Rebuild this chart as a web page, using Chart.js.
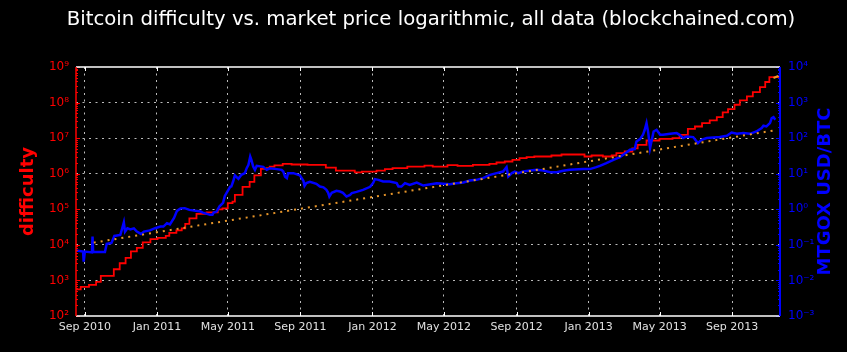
<!DOCTYPE html>
<html>
<head>
<meta charset="utf-8">
<script src="https://cdn.jsdelivr.net/npm/chart.js@4.4.1/dist/chart.umd.min.js"></script>
<style>
  html, body { margin: 0; padding: 0; background: #000; }
</style>
</head>
<body>
<canvas id="chart" width="847" height="352"></canvas>
<script>
const chartTitle = 'Bitcoin difficulty vs. market price logarithmic, all data (blockchained.com)';

// x axis ticks
const xTickDates = ['2010-09-01', '2011-01-01', '2011-05-01', '2011-09-01', '2012-01-01',
  '2012-05-01', '2012-09-01', '2013-01-01', '2013-05-01', '2013-09-01'];
const xTickLabels = ['Sep 2010', 'Jan 2011', 'May 2011', 'Sep 2011', 'Jan 2012',
  'May 2012', 'Sep 2012', 'Jan 2013', 'May 2013', 'Sep 2013'];

// y axis ticks
const diffTicks = [1e2, 1e3, 1e4, 1e5, 1e6, 1e7, 1e8, 1e9];
const diffTickLabels = ['10²', '10³', '10⁴', '10⁵', '10⁶', '10⁷', '10⁸', '10⁹'];
const priceTicks = [1e-3, 1e-2, 1e-1, 1e0, 1e1, 1e2, 1e3, 1e4];
const priceTickLabels = ['10⁻³', '10⁻²', '10⁻¹', '10⁰', '10¹', '10²', '10³', '10⁴'];

// network difficulty (red, stepped)
const diffDates = ['2010-08-17', '2010-08-25', '2010-09-08', '2010-09-20', '2010-09-28', '2010-10-20',
  '2010-10-30', '2010-11-09', '2010-11-18', '2010-11-28', '2010-12-08', '2010-12-21', '2011-01-02',
  '2011-01-16', '2011-01-22', '2011-02-03', '2011-02-12', '2011-02-18', '2011-02-25', '2011-03-09',
  '2011-03-26', '2011-04-14', '2011-04-22', '2011-05-01', '2011-05-09', '2011-05-13', '2011-05-26',
  '2011-06-07', '2011-06-15', '2011-06-26', '2011-07-06', '2011-07-11', '2011-07-19', '2011-08-02',
  '2011-08-17', '2011-09-13', '2011-10-14', '2011-10-31', '2011-12-02', '2011-12-14', '2012-01-08',
  '2012-01-22', '2012-02-04', '2012-02-29', '2012-03-29', '2012-04-12', '2012-05-07', '2012-05-24',
  '2012-06-19', '2012-07-17', '2012-07-29', '2012-08-12', '2012-08-25', '2012-09-06', '2012-09-18',
  '2012-10-01', '2012-10-30', '2012-11-16', '2012-12-25', '2013-01-06', '2013-01-25', '2013-02-09',
  '2013-02-17', '2013-03-03', '2013-03-16', '2013-03-25', '2013-04-09', '2013-05-01', '2013-05-23',
  '2013-06-04', '2013-06-18', '2013-06-30', '2013-07-12', '2013-07-25', '2013-08-06', '2013-08-16',
  '2013-08-25', '2013-09-05', '2013-09-14', '2013-09-26', '2013-10-06', '2013-10-18', '2013-10-27',
  '2013-11-03', '2013-11-19'];
const diffValues = [564, 655, 746, 906, 1336, 2063,
  3043, 4290, 6537, 8202, 11720, 14420, 15670,
  17860, 21680, 25480, 29010, 38830, 55460, 74280,
  81850, 99310, 106100, 148600, 164800, 254700, 427600,
  590200, 899500, 1371000, 1435000, 1592000, 1721000, 1897000,
  1813000, 1778000, 1483000, 1228000, 1093000, 1151000, 1228000,
  1346000, 1435000, 1592000, 1698000, 1592000, 1742000, 1667000,
  1778000, 1897000, 2065000, 2203000, 2460000, 2744000, 2929000,
  3046000, 3251000, 3467000, 3046000, 3251000, 3046000, 3251000,
  3795000, 4209000, 5176000, 6497000, 8595000, 9590000, 10030000,
  12420000, 18330000, 21280000, 26540000, 31420000, 39120000, 52720000,
  65760000, 86950000, 114800000, 148600000, 197700000, 273500000, 378400000,
  516500000, 568800000];

// difficulty estimate at the end (orange)
const estDates = ['2013-11-10', '2013-11-19'];
const estValues = [490000000, 569000000];

// MtGox USD/BTC (blue)
const priceDates = ['2010-08-17', '2010-08-29', '2010-08-30', '2010-09-01', '2010-09-13', '2010-09-14',
  '2010-09-15', '2010-10-05', '2010-10-08', '2010-10-16', '2010-10-21', '2010-10-31', '2010-11-03',
  '2010-11-06', '2010-11-08', '2010-11-12', '2010-11-17', '2010-11-23', '2010-11-28', '2010-12-05',
  '2010-12-10', '2010-12-20', '2010-12-29', '2011-01-07', '2011-01-12', '2011-01-18', '2011-01-23',
  '2011-01-30', '2011-02-04', '2011-02-10', '2011-02-17', '2011-02-25', '2011-03-16', '2011-03-20',
  '2011-04-01', '2011-04-05', '2011-04-07', '2011-04-12', '2011-04-17', '2011-04-23', '2011-04-26',
  '2011-04-29', '2011-05-05', '2011-05-07', '2011-05-10', '2011-05-13', '2011-05-19', '2011-05-24',
  '2011-05-30', '2011-06-02', '2011-06-05', '2011-06-08', '2011-06-10', '2011-06-13', '2011-06-16',
  '2011-06-19', '2011-06-30', '2011-07-06', '2011-07-11', '2011-07-23', '2011-07-31', '2011-08-03',
  '2011-08-06', '2011-08-09', '2011-08-11', '2011-08-20', '2011-08-31', '2011-09-06', '2011-09-08',
  '2011-09-11', '2011-09-17', '2011-09-28', '2011-10-04', '2011-10-10', '2011-10-15', '2011-10-18',
  '2011-10-20', '2011-10-24', '2011-11-01', '2011-11-07', '2011-11-12', '2011-11-18', '2011-11-24',
  '2011-11-27', '2011-12-05', '2011-12-16', '2011-12-28', '2012-01-02', '2012-01-05', '2012-01-11',
  '2012-01-19', '2012-01-30', '2012-02-11', '2012-02-14', '2012-02-19', '2012-02-25', '2012-03-04',
  '2012-03-16', '2012-03-27', '2012-04-19', '2012-05-11', '2012-05-22', '2012-06-03', '2012-06-14',
  '2012-06-25', '2012-07-06', '2012-07-18', '2012-07-29', '2012-08-09', '2012-08-15', '2012-08-18',
  '2012-08-24', '2012-08-29', '2012-09-04', '2012-09-12', '2012-09-24', '2012-10-05', '2012-10-16',
  '2012-10-28', '2012-11-08', '2012-11-19', '2012-11-30', '2012-12-23', '2013-01-03', '2013-01-14',
  '2013-01-20', '2013-01-31', '2013-02-12', '2013-02-23', '2013-03-03', '2013-03-12', '2013-03-20',
  '2013-03-23', '2013-03-29', '2013-04-03', '2013-04-06', '2013-04-09', '2013-04-12', '2013-04-15',
  '2013-04-18', '2013-04-21', '2013-04-26', '2013-05-02', '2013-05-07', '2013-05-19', '2013-05-30',
  '2013-06-04', '2013-06-10', '2013-06-16', '2013-06-27', '2013-07-05', '2013-07-11', '2013-07-20',
  '2013-08-11', '2013-08-23', '2013-08-31', '2013-09-09', '2013-09-20', '2013-10-01', '2013-10-12',
  '2013-10-21', '2013-10-24', '2013-10-29', '2013-11-04', '2013-11-07', '2013-11-10', '2013-11-13'];
const priceValues = [0.0689, 0.0645, 0.0337, 0.0645, 0.0612, 0.1706,
  0.0633, 0.0633, 0.1063, 0.1134, 0.1785, 0.1905, 0.2812,
  0.4285, 0.2358, 0.2940, 0.2720, 0.2901, 0.2358, 0.2032,
  0.2358, 0.2549, 0.2940, 0.3261, 0.3261, 0.4064, 0.3759,
  0.5730, 0.9021, 1.061, 1.074, 0.962, 0.863, 0.8075,
  0.6966, 0.6966, 0.8075, 0.863, 1.208, 1.514, 2.384,
  2.897, 4.276, 4.355, 6.026, 8.995, 7.172, 9.297,
  10.38, 14.35, 17.78, 30.46, 24.60, 15.92, 12.85,
  16.67, 15.62, 12.85, 14.16, 13.46, 12.85, 11.51,
  8.168, 7.51, 10.38, 10.38, 8.995, 6.306, 4.56,
  5.43, 5.902, 5.19, 4.355, 4.137, 3.517, 2.897,
  2.278, 2.897, 3.297, 3.148, 2.897, 2.278, 2.545,
  2.840, 3.090, 3.517, 4.276, 5.430, 7.036, 6.724,
  6.026, 6.026, 5.430, 4.355, 4.355, 5.430, 4.864,
  5.648, 4.650, 5.430, 5.090, 5.430, 5.648, 6.428,
  6.724, 7.510, 9.297, 10.38, 11.51, 15.31, 8.33,
  10.38, 11.51, 10.38, 11.51, 12.28, 12.85, 12.28,
  11.07, 11.07, 12.05, 12.85, 13.46, 13.46, 15.31,
  16.67, 19.86, 24.60, 29.31, 36.31, 47.03, 49.20,
  80.5, 94.0, 124.2, 171.7, 265.5, 138.7, 52.5,
  89.9, 153.8, 171.7, 124.2, 124.2, 132.4, 138.7,
  124.2, 100.3, 111.4, 107.1, 72.6, 89.9, 100.3,
  107.1, 116.4, 144.3, 132.4, 138.7, 132.4, 153.8,
  191.9, 222.8, 212.8, 265.5, 366.6, 391.0, 328.3];

// exponential price trend (orange dotted)
const trendDates = ['2010-09-16', '2011-05-16', '2012-02-16', '2012-12-17', '2013-11-10'];
const trendValues = [0.1156, 0.527, 2.953, 20.2, 164.0];

const toDay = s => Date.UTC(+s.slice(0, 4), +s.slice(5, 7) - 1, +s.slice(8, 10)) / 86400000;
const pts = (dates, values) => dates.map((d, i) => ({ x: toDay(d), y: values[i] }));

Chart.defaults.font.family = '"DejaVu Sans", sans-serif';

const gridColor = '#bbbbbb';

const axesDecor = {
  id: 'axesDecor',
  afterDraw(chart) {
    const { ctx, chartArea: a, scales } = chart;
    ctx.save();
    // x ticks, pointing in from top and bottom
    ctx.strokeStyle = '#ffffff';
    ctx.lineWidth = 1;
    scales.x.ticks.forEach(t => {
      const px = Math.round(scales.x.getPixelForValue(t.value)) + 0.5;
      ctx.beginPath();
      ctx.moveTo(px, a.bottom); ctx.lineTo(px, a.bottom - 4);
      ctx.moveTo(px, a.top); ctx.lineTo(px, a.top + 4);
      ctx.stroke();
    });
    // log ticks, major and minor
    const logTicks = (scale, x0, dir, color) => {
      ctx.strokeStyle = color;
      ctx.lineWidth = 1;
      const e0 = Math.round(Math.log10(scale.min)), e1 = Math.round(Math.log10(scale.max));
      for (let e = e0; e <= e1; e++) {
        for (let k = 1; k <= 9; k++) {
          if (e === e1 && k > 1) break;
          const py = Math.round(scale.getPixelForValue(k * Math.pow(10, e))) + 0.5;
          const len = k === 1 ? 4 : 2;
          ctx.beginPath();
          ctx.moveTo(x0, py); ctx.lineTo(x0 + dir * len, py);
          ctx.stroke();
        }
      }
    };
    logTicks(scales.y, a.left, 1, '#ff0000');
    logTicks(scales.y2, a.right, -1, '#0000ff');
    // spines
    ctx.lineWidth = 1.5;
    ctx.strokeStyle = '#ffffff';
    ctx.beginPath();
    ctx.moveTo(a.left, a.top); ctx.lineTo(a.right, a.top);
    ctx.moveTo(a.left, a.bottom); ctx.lineTo(a.right, a.bottom);
    ctx.stroke();
    ctx.strokeStyle = '#ff0000';
    ctx.beginPath(); ctx.moveTo(a.left, a.top); ctx.lineTo(a.left, a.bottom); ctx.stroke();
    ctx.lineWidth = 2;
    ctx.strokeStyle = '#0000ff';
    ctx.beginPath(); ctx.moveTo(a.right, a.top); ctx.lineTo(a.right, a.bottom); ctx.stroke();
    // chart title
    ctx.fillStyle = '#ffffff';
    ctx.font = '19.7px "DejaVu Sans"';
    ctx.textAlign = 'center';
    ctx.textBaseline = 'middle';
    ctx.fillText(chartTitle, 431, 20);
    // right axis title, reading bottom to top
    ctx.translate(scales.y2.right - 22, (a.top + a.bottom) / 2);
    ctx.rotate(-Math.PI / 2);
    ctx.fillStyle = '#0000ff';
    ctx.font = 'bold 18px "DejaVu Sans"';
    ctx.fillText('MTGOX USD/BTC', 0, 0);
    ctx.restore();
  }
};

new Chart(document.getElementById('chart'), {
  type: 'line',
  data: {
    datasets: [
      {
        label: 'trend',
        data: pts(trendDates, trendValues),
        yAxisID: 'y2',
        borderColor: '#e8962a',
        borderWidth: 2,
        borderDash: [2, 5],
        pointRadius: 0,
        order: 0
      },
      {
        label: 'estimate',
        data: pts(estDates, estValues),
        yAxisID: 'y',
        borderColor: '#e8962a',
        borderWidth: 2,
        pointRadius: 0,
        order: 0
      },
      {
        label: 'MTGOX USD/BTC',
        data: pts(priceDates, priceValues),
        yAxisID: 'y2',
        borderColor: '#0000ff',
        borderWidth: 2.5,
        pointRadius: 0,
        order: 1
      },
      {
        label: 'difficulty',
        data: pts(diffDates, diffValues),
        yAxisID: 'y',
        borderColor: '#ff0000',
        borderWidth: 1.8,
        stepped: true,
        pointRadius: 0,
        order: 2
      }
    ]
  },
  options: {
    responsive: false,
    animation: false,
    layout: { padding: { top: 67 } },
    plugins: {
      legend: { display: false },
      tooltip: { enabled: false },
      title: { display: false }
    },
    scales: {
      x: {
        type: 'linear',
        min: toDay('2010-08-17'),
        max: toDay('2013-11-21'),
        afterBuildTicks: s => { s.ticks = xTickDates.map(d => ({ value: toDay(d) })); },
        ticks: {
          autoSkip: false, maxRotation: 0, color: '#e0e0e0', font: { size: 11 }, padding: 5,
          callback: (v, i) => xTickLabels[i]
        },
        grid: { color: gridColor, lineWidth: 1, drawTicks: false },
        border: { display: false, dash: [2, 4.5] },
        afterFit: s => { s.height = 36; }
      },
      y: {
        type: 'logarithmic',
        position: 'left',
        min: 1e2,
        max: 1e9,
        afterBuildTicks: s => { s.ticks = diffTicks.map(v => ({ value: v })); },
        ticks: { color: '#ff0000', font: { size: 12 }, padding: 7, callback: (v, i) => diffTickLabels[i] },
        grid: {
          color: c => (c.index === 0 || c.index === diffTicks.length - 1) ? 'rgba(0,0,0,0)' : gridColor,
          lineWidth: 1, drawTicks: false
        },
        border: { display: false, dash: [2, 4.5] },
        title: {
          display: true, text: 'difficulty', color: '#ff0000',
          font: { size: 18, weight: 'bold' }, padding: { top: 18, bottom: 0 }
        },
        afterFit: s => { s.width = 76; }
      },
      y2: {
        type: 'logarithmic',
        position: 'right',
        min: 1e-3,
        max: 1e4,
        afterBuildTicks: s => { s.ticks = priceTicks.map(v => ({ value: v })); },
        ticks: { color: '#0000ff', font: { size: 12 }, padding: 8, callback: (v, i) => priceTickLabels[i] },
        grid: { display: false, drawTicks: false },
        border: { display: false },
        afterFit: s => { s.width = 67; }
      }
    }
  },
  plugins: [axesDecor]
});
</script>
</body>
</html>
